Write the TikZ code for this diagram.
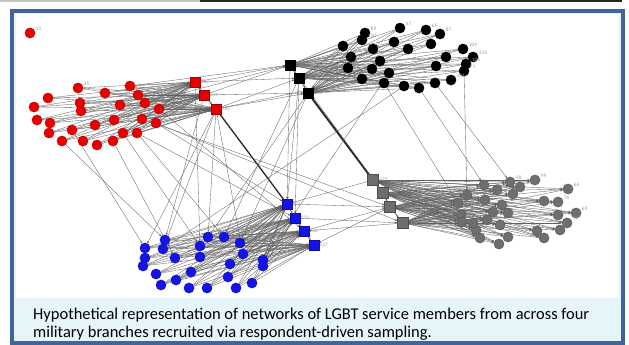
\documentclass[tikz,border=0pt]{standalone}
\usepackage{fontspec}
\setmainfont{Carlito}
\usetikzlibrary{arrows.meta}

\definecolor{framebl}{HTML}{41659B}
\definecolor{capbg}{HTML}{E6F5F9}
\definecolor{lblgray}{HTML}{9A9A9A}
\definecolor{nodered}{HTML}{E60000}
\definecolor{nodeblue}{HTML}{1414E6}
\definecolor{nodegray}{HTML}{6E6E6E}

\pgfdeclarelayer{bg}
\pgfdeclarelayer{edges}
\pgfsetlayers{bg,edges,main}

\begin{document}
\begin{tikzpicture}[x=0.03cm,y=-0.03cm,
    member/.style={circle,inner sep=0pt,minimum size=0.31cm,draw=#1!70!black,line width=0.2pt,fill=#1},
    seed/.style={rectangle,inner sep=0pt,minimum size=0.28cm,draw=#1!70!black,line width=0.2pt,fill=#1},
    lbl/.style={font=\fontsize{4.5}{4.5}\selectfont,text=lblgray,inner sep=0.6pt},
    tie/.style={draw=black!62,line width=0.28pt,-{Stealth[length=2pt,width=1.7pt]}},
    bond/.style={draw=black!85,line width=1.6pt}]

  \useasboundingbox (0,0) rectangle (629,345);

  % frame and caption box
  \begin{pgfonlayer}{bg}
    \draw[gray!45,line width=0.06cm] (0,1.5) -- (200,1.5);
    \draw[black!85,line width=0.06cm] (200,1.5) -- (622,1.5);
    \draw[framebl,line width=0.12cm,fill=capbg] (12,11) rectangle (623,343);
    \fill[white] (16,14) rectangle (619,298);
  \end{pgfonlayer}

  % red branch
  \node[member=nodered,label={[lbl]20:11}] (r0) at (30,33) {};
  \node[member=nodered,label={[lbl]20:25}] (r1) at (78,88) {};
  \node[member=nodered] (r2) at (105,93) {};
  \node[member=nodered] (r3) at (130,86) {};
  \node[member=nodered] (r4) at (138,95) {};
  \node[member=nodered] (r5) at (48,98) {};
  \node[member=nodered] (r6) at (34,107) {};
  \node[member=nodered] (r7) at (80,103) {};
  \node[member=nodered] (r8) at (81,111) {};
  \node[member=nodered] (r9) at (120,105) {};
  \node[member=nodered] (r10) at (145,103) {};
  \node[member=nodered] (r11) at (159,109) {};
  \node[member=nodered] (r12) at (37,120) {};
  \node[member=nodered] (r13) at (50,123) {};
  \node[member=nodered] (r14) at (95,125) {};
  \node[member=nodered] (r15) at (114,120) {};
  \node[member=nodered] (r16) at (142,119) {};
  \node[member=nodered] (r17) at (156,123) {};
  \node[member=nodered] (r18) at (49,133) {};
  \node[member=nodered] (r19) at (72,130) {};
  \node[member=nodered] (r20) at (123,133) {};
  \node[member=nodered] (r21) at (137,133) {};
  \node[member=nodered] (r22) at (62,141) {};
  \node[member=nodered] (r23) at (83,141) {};
  \node[member=nodered] (r24) at (97,145) {};
  \node[member=nodered] (r25) at (113,141) {};
  \node[seed=nodered,label={[lbl]0:132}] (ra) at (195,82) {};
  \node[seed=nodered,label={[lbl]0:134}] (rb) at (204,95) {};
  \node[seed=nodered,label={[lbl]0:135}] (rc) at (216,109) {};

  % black branch
  \node[member=black,label={[lbl]20:89}] (k1) at (365,33) {};
  \node[member=black,label={[lbl]20:110}] (k2) at (362,40) {};
  \node[member=black,label={[lbl]20:67}] (k3) at (400,28) {};
  \node[member=black,label={[lbl]20:65}] (k4) at (426,30) {};
  \node[member=black,label={[lbl]20:87}] (k5) at (440,34) {};
  \node[member=black] (k6) at (343,46) {};
  \node[member=black] (k7) at (351,57) {};
  \node[member=black] (k8) at (373,49) {};
  \node[member=black] (k9) at (394,42) {};
  \node[member=black] (k10) at (408,49) {};
  \node[member=black] (k11) at (431,44) {};
  \node[member=black] (k12) at (446,57) {};
  \node[member=black,label={[lbl]20:104}] (k13) at (463,49) {};
  \node[member=black,label={[lbl]20:115}] (k14) at (473,57) {};
  \node[member=black,label={[lbl]20:106}] (k15) at (466,64) {};
  \node[member=black,label={[lbl]20:71}] (k16) at (464,71) {};
  \node[member=black] (k17) at (348,68) {};
  \node[member=black] (k18) at (372,69) {};
  \node[member=black] (k19) at (380,61) {};
  \node[member=black] (k20) at (389,73) {};
  \node[member=black] (k21) at (362,79) {};
  \node[member=black] (k22) at (384,83) {};
  \node[member=black] (k23) at (404,86) {};
  \node[member=black] (k24) at (419,88) {};
  \node[member=black] (k25) at (435,83) {};
  \node[member=black,label={[lbl]20:101}] (k26) at (451,80) {};
  \node[member=black] (k27) at (436,66) {};
  \node[seed=black,label={[lbl]0:123}] (ka) at (290,65) {};
  \node[seed=black,label={[lbl]0:125}] (kb) at (299,78) {};
  \node[seed=black,label={[lbl]0:126}] (kc) at (308,93) {};

  % blue branch
  \node[member=nodeblue] (b1) at (145,248) {};
  \node[member=nodeblue] (b2) at (165,240) {};
  \node[member=nodeblue] (b3) at (163,249) {};
  \node[member=nodeblue] (b4) at (145,258) {};
  \node[member=nodeblue] (b5) at (143,266) {};
  \node[member=nodeblue] (b6) at (156,274) {};
  \node[member=nodeblue] (b7) at (161,285) {};
  \node[member=nodeblue] (b8) at (175,258) {};
  \node[member=nodeblue] (b9) at (176,280) {};
  \node[member=nodeblue] (b10) at (191,272) {};
  \node[member=nodeblue] (b11) at (189,288) {};
  \node[member=nodeblue] (b12) at (207,288) {};
  \node[member=nodeblue] (b13) at (200,246) {};
  \node[member=nodeblue] (b14) at (200,257) {};
  \node[member=nodeblue] (b15) at (208,237) {};
  \node[member=nodeblue] (b16) at (224,237) {};
  \node[member=nodeblue] (b17) at (240,243) {};
  \node[member=nodeblue] (b18) at (243,254) {};
  \node[member=nodeblue] (b19) at (230,264) {};
  \node[member=nodeblue] (b20) at (228,277) {};
  \node[member=nodeblue] (b21) at (236,288) {};
  \node[member=nodeblue] (b22) at (252,283) {};
  \node[member=nodeblue] (b23) at (263,260) {};
  \node[member=nodeblue] (b24) at (263,266) {};
  \node[seed=nodeblue,label={[lbl]0:131}] (ba) at (287,204) {};
  \node[seed=nodeblue,label={[lbl]0:133}] (bb) at (295,218) {};
  \node[seed=nodeblue,label={[lbl]0:136}] (bc) at (304,231) {};
  \node[seed=nodeblue,label={[lbl]0:137}] (bd) at (314,245) {};

  % gray branch
  \node[member=nodegray,label={[lbl]20:98}] (g1) at (510,182) {};
  \node[member=nodegray,label={[lbl]20:119}] (g2) at (520,187) {};
  \node[member=nodegray,label={[lbl]20:99}] (g3) at (535,180) {};
  \node[member=nodegray] (g4) at (484,185) {};
  \node[member=nodegray] (g5) at (497,190) {};
  \node[member=nodegray] (g6) at (513,194) {};
  \node[member=nodegray,label={[lbl]20:66}] (g7) at (568,189) {};
  \node[member=nodegray] (g8) at (544,201) {};
  \node[member=nodegray,label={[lbl]20:76}] (g9) at (558,202) {};
  \node[member=nodegray] (g10) at (467,195) {};
  \node[member=nodegray] (g11) at (485,200) {};
  \node[member=nodegray] (g12) at (458,203) {};
  \node[member=nodegray] (g13) at (502,205) {};
  \node[member=nodegray] (g14) at (493,212) {};
  \node[member=nodegray] (g15) at (508,213) {};
  \node[member=nodegray] (g16) at (558,215) {};
  \node[member=nodegray,label={[lbl]20:69}] (g17) at (576,213) {};
  \node[member=nodegray,label={[lbl]20:79}] (g18) at (567,223) {};
  \node[member=nodegray] (g19) at (461,215) {};
  \node[member=nodegray] (g20) at (462,222) {};
  \node[member=nodegray] (g21) at (487,220) {};
  \node[member=nodegray] (g22) at (500,225) {};
  \node[member=nodegray] (g23) at (476,230) {};
  \node[member=nodegray] (g24) at (480,238) {};
  \node[member=nodegray] (g25) at (508,237) {};
  \node[member=nodegray] (g26) at (499,244) {};
  \node[member=nodegray] (g27) at (537,231) {};
  \node[member=nodegray] (g28) at (544,238) {};
  \node[member=nodegray] (g29) at (560,230) {};
  \node[member=nodegray] (g30) at (473,223) {};
  \node[seed=nodegray,minimum size=0.33cm,label={[lbl]0:127}] (ga) at (373,180) {};
  \node[seed=nodegray,minimum size=0.33cm,label={[lbl]0:128}] (gb) at (383,193) {};
  \node[seed=nodegray,minimum size=0.33cm,label={[lbl]0:129}] (gc) at (390,207) {};
  \node[seed=nodegray,minimum size=0.33cm,label={[lbl]0:130}] (gd) at (403,223) {};

  \begin{pgfonlayer}{edges}
    % within each branch
    \foreach \i in {1,...,25} {
      \draw[tie] (r\i) -- (ra);
      \draw[tie] (r\i) -- (rb);
      \draw[tie] (r\i) -- (rc);
    }
    \foreach \i in {1,...,27} {
      \draw[tie] (k\i) -- (ka);
      \draw[tie] (k\i) -- (kb);
      \draw[tie] (k\i) -- (kc);
    }
    \foreach \i in {1,...,24} {
      \draw[tie] (b\i) -- (ba);
      \draw[tie] (b\i) -- (bb);
      \draw[tie] (b\i) -- (bc);
      \draw[tie] (b\i) -- (bd);
    }
    \foreach \i in {1,...,30} {
      \draw[tie] (ga) -- (g\i);
      \draw[tie] (gb) -- (g\i);
      \draw[tie] (gc) -- (g\i);
      \draw[tie] (gd) -- (g\i);
    }
    \draw[tie,line width=0.6pt] (ra) -- (rb);
    \draw[tie,line width=0.6pt] (rb) -- (rc);
    \draw[tie,line width=0.6pt] (ka) -- (kb);
    \draw[tie,line width=0.6pt] (kb) -- (kc);
    \draw[tie,line width=0.6pt] (ba) -- (bb);
    \draw[tie,line width=0.6pt] (bb) -- (bc);
    \draw[tie,line width=0.6pt] (bc) -- (bd);
    \draw[tie,line width=0.6pt] (ga) -- (gb);
    \draw[tie,line width=0.6pt] (gb) -- (gc);
    \draw[tie,line width=0.6pt] (gc) -- (gd);

    % between branches
    \draw[bond] (kc) -- (ga);
    \draw[bond,line width=1.1pt] (rc) -- (ba);
    \draw[tie] (ra) -- (ka);
    \draw[tie] (ra) -- (kb);
    \draw[tie] (rb) -- (ka);
    \draw[tie] (rb) -- (kc);
    \draw[tie] (rc) -- (kb);
    \draw[tie] (rc) -- (kc);
    \draw[tie] (r3) -- (ka);
    \draw[tie] (r10) -- (ka);
    \draw[tie] (rc) -- (k21);
    \draw[tie] (ka) -- (ba);
    \draw[tie] (kb) -- (ba);
    \draw[tie] (kb) -- (bb);
    \draw[tie] (kc) -- (b17);
    \draw[tie] (kb) -- (b16);
    \draw[tie] (ka) -- (gb);
    \draw[tie] (k22) -- (g12);
    \draw[tie] (k24) -- (g4);
    \draw[tie] (k16) -- (g10);
    \draw[tie] (k25) -- (g1);
    \draw[tie] (k23) -- (b3);
    \draw[tie] (ga) -- (ba);
    \draw[tie] (gc) -- (bd);
    \draw[tie] (gd) -- (bc);
    \draw[tie] (bb) -- (gd);
    \draw[tie] (bc) -- (gc);
    \draw[tie] (ba) -- (gc);
    \draw[tie] (rc) -- (b1);
    \draw[tie] (rc) -- (b3);
    \draw[tie] (rc) -- (b15);
    \draw[tie] (rc) -- (b18);
    \draw[tie] (rb) -- (b2);
    \draw[tie] (ra) -- (b13);
    \draw[tie] (r20) -- (b13);
    \draw[tie] (r21) -- (b16);
    \draw[tie] (r22) -- (b2);
    \draw[tie] (r19) -- (b1);
    \draw[tie] (r25) -- (b8);
    \draw[tie] (r17) -- (ba);
    \draw[tie] (r21) -- (bb);
    \draw[tie] (r11) -- (bc);
    \draw[tie] (r17) -- (gd);
    \draw[tie] (r16) -- (gc);
    \draw[tie] (b15) -- (kc);
    \draw[tie] (b23) -- (k20);
  \end{pgfonlayer}

  % caption
  \node[anchor=base west,inner sep=0pt,font=\fontsize{14.05}{16}\selectfont] (cap1) at (33,319)
    {Hypothetical representation of networks of LGBT service members from across four};
  \node[anchor=base west,inner sep=0pt,font=\fontsize{14.05}{16}\selectfont] (cap2) at (33,337)
    {military branches recruited via respondent-driven sampling.};
\end{tikzpicture}
\end{document}
